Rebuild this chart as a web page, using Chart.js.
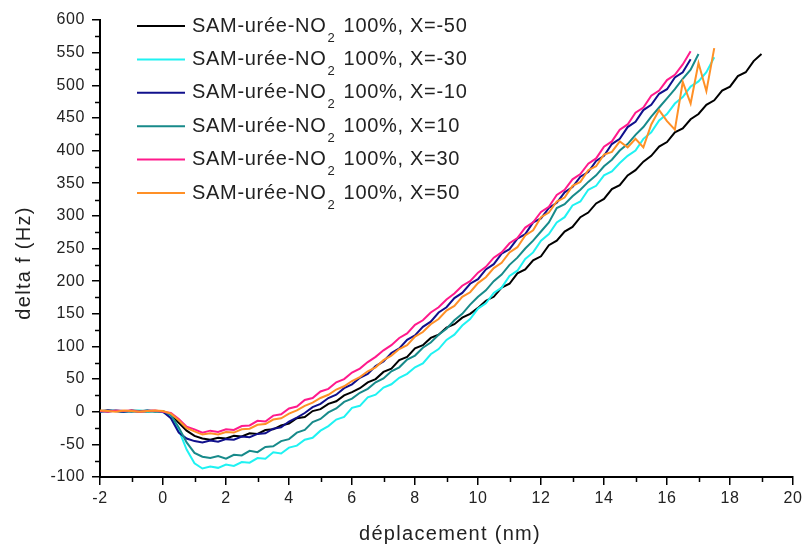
<!DOCTYPE html>
<html>
<head>
<meta charset="utf-8">
<title>delta f vs déplacement</title>
<script src="https://cdn.jsdelivr.net/npm/chart.js@4/dist/chart.umd.min.js"></script>
<style>
  html, body { margin: 0; padding: 0; background: #fff; }
  #c { display: block; }
</style>
</head>
<body>
<canvas id="c" width="807" height="547"></canvas>
<script>
// Displacement (nm), shared by all series
const displacement = [-2,-1.75,-1.5,-1.25,-1,-0.75,-0.5,-0.25,0,0.25,0.5,0.75,1,1.25,1.5,1.75,2,2.25,2.5,2.75,3,3.25,3.5,3.75,4,4.25,4.5,4.75,5,5.25,5.5,5.75,6,6.25,6.5,6.75,7,7.25,7.5,7.75,8,8.25,8.5,8.75,9,9.25,9.5,9.75,10,10.25,10.5,10.75,11,11.25,11.5,11.75,12,12.25,12.5,12.75,13,13.25,13.5,13.75,14,14.25,14.5,14.75,15,15.25,15.5,15.75,16,16.25,16.5,16.75,17,17.25,17.5,17.75,18,18.25,18.5,18.75,19];

// delta f (Hz) for each X
const xm50 = [1,2,1,0,2,1,0,1,0,-4,-17,-29,-37,-41,-43,-40,-41,-37,-38,-33,-34,-28,-27,-21,-18,-10,-8,1,4,12,16,25,30,36,45,50,61,66,79,84,97,102,113,118,129,134,144,150,159,170,176,190,196,212,218,232,238,255,262,276,283,298,305,319,326,341,347,362,370,383,392,406,413,428,434,448,456,470,477,492,498,514,520,537,548];
const xm30 = [0,1,2,0,1,2,0,1,-1,-6,-28,-58,-79,-87,-84,-86,-81,-83,-77,-78,-71,-72,-62,-64,-55,-52,-43,-40,-29,-22,-12,-8,6,9,22,26,37,42,52,58,68,74,88,96,110,118,132,142,158,166,182,190,208,216,234,244,262,272,290,298,316,322,340,346,362,368,381,392,400,418,428,446,456,472,482,498,506,520,543];
const xm10 = [0,2,1,0,1,0,2,1,0,-10,-32,-41,-45,-47,-44,-46,-42,-43,-38,-39,-34,-33,-26,-24,-15,-9,-2,7,12,21,26,36,42,52,58,70,77,90,97,110,117,130,138,152,160,174,182,196,203,218,226,242,249,265,272,290,296,312,320,336,344,360,367,384,392,410,418,436,444,462,470,487,494,512,520,540];
const xp10 = [1,0,2,1,0,1,2,0,1,-5,-24,-47,-63,-69,-71,-68,-72,-66,-67,-60,-62,-54,-53,-45,-42,-32,-28,-16,-11,-1,5,15,20,29,35,45,51,62,68,80,86,98,106,118,127,140,150,164,176,186,200,210,225,236,250,262,276,290,312,318,330,340,352,362,376,386,400,410,424,436,452,466,480,494,510,524,548];
const xp30 = [1,0,2,1,2,0,1,2,0,-2,-11,-23,-27,-32,-29,-31,-27,-28,-22,-21,-14,-15,-6,-4,5,8,18,21,31,35,45,50,60,66,76,84,94,102,113,120,133,140,152,160,172,181,193,200,213,222,236,244,258,266,282,290,306,314,332,340,356,364,380,388,406,414,432,440,458,466,484,492,508,516,532,552];
const xp50 = [2,1,0,2,1,0,1,2,1,-3,-13,-25,-30,-35,-33,-35,-31,-32,-27,-26,-20,-19,-12,-10,-3,2,9,14,21,26,34,39,47,53,62,68,79,86,96,102,115,122,134,142,155,162,176,183,197,206,220,228,244,252,270,278,298,305,322,328,346,352,370,376,394,398,414,405,418,405,440,462,445,432,505,472,534,491,557];

const seriesLabels = [
  'SAM-urée-NO₂ 100%, X=-50',
  'SAM-urée-NO₂ 100%, X=-30',
  'SAM-urée-NO₂ 100%, X=-10',
  'SAM-urée-NO₂ 100%, X=10',
  'SAM-urée-NO₂ 100%, X=30',
  'SAM-urée-NO₂ 100%, X=50'
];
const seriesValues = [xm50, xm30, xm10, xp10, xp30, xp50];
const seriesColors = ['#000000', '#1ff2f2', '#10108c', '#178a8a', '#ff1a8c', '#ff9026'];

const FONT = '"Liberation Sans", Arial, sans-serif';

function toPoints(ys) {
  return ys.map((y, i) => ({ x: displacement[i], y: y }));
}

// minor ticks halfway between major ones
const minorTicks = {
  id: 'minorTicks',
  afterDraw(chart) {
    const ctx = chart.ctx;
    const xs = chart.scales.x, ys = chart.scales.y;
    const area = chart.chartArea;
    ctx.save();
    ctx.strokeStyle = '#000';
    ctx.lineWidth = 1.5;
    ctx.beginPath();
    for (let v = -1; v < 20; v += 2) {
      const px = Math.round(xs.getPixelForValue(v)) + 0.5;
      ctx.moveTo(px, area.bottom);
      ctx.lineTo(px, area.bottom + 5);
    }
    for (let v = -75; v < 600; v += 50) {
      const py = Math.round(ys.getPixelForValue(v)) + 0.5;
      ctx.moveTo(area.left, py);
      ctx.lineTo(area.left - 5, py);
    }
    ctx.stroke();
    ctx.restore();
  }
};

// axis titles with the wide letter spacing of the original
const axisTitles = {
  id: 'axisTitles',
  afterDraw(chart) {
    const ctx = chart.ctx;
    ctx.save();
    ctx.fillStyle = '#222';
    ctx.font = '20px ' + FONT;
    ctx.letterSpacing = '1.3px';
    ctx.textAlign = 'center';
    ctx.textBaseline = 'middle';
    ctx.fillText('déplacement (nm)', 450, 534);
    ctx.translate(24, 263);
    ctx.rotate(-Math.PI / 2);
    ctx.fillText('delta f (Hz)', 0, 0);
    ctx.restore();
  }
};

// legend with a real subscript 2 in NO2
const subLegend = {
  id: 'subLegend',
  afterDraw(chart) {
    const ctx = chart.ctx;
    ctx.save();
    ctx.letterSpacing = '0.7px';
    ctx.textBaseline = 'middle';
    chart.data.datasets.forEach((ds, i) => {
      const y = 26 + i * 33.4;
      ctx.strokeStyle = ds.borderColor;
      ctx.lineWidth = 2;
      ctx.beginPath();
      ctx.moveTo(137, y);
      ctx.lineTo(185, y);
      ctx.stroke();
      const parts = ds.label.split('₂');
      ctx.fillStyle = '#222';
      ctx.font = '20px ' + FONT;
      ctx.fillText(parts[0], 192, y);
      let x = 192 + ctx.measureText(parts[0]).width;
      ctx.font = '13px ' + FONT;
      ctx.fillText('2', x + 1, y + 12);
      x += ctx.measureText('2').width + 3;
      ctx.font = '20px ' + FONT;
      ctx.fillText(parts[1], x, y);
    });
    ctx.restore();
  }
};

const spacing = {
  id: 'spacing',
  beforeDraw(chart) { chart.ctx.letterSpacing = '0.6px'; }
};

new Chart(document.getElementById('c'), {
  type: 'line',
  data: {
    datasets: seriesValues.map((ys, i) => ({
      label: seriesLabels[i],
      data: toPoints(ys),
      borderColor: seriesColors[i],
      backgroundColor: seriesColors[i],
      borderWidth: 2,
      pointRadius: 0,
      tension: 0,
      fill: false,
      order: seriesValues.length - i
    }))
  },
  options: {
    responsive: false,
    animation: false,
    devicePixelRatio: 1,
    layout: { padding: { top: 20, right: 14, left: 0, bottom: 0 } },
    plugins: {
      legend: { display: false },
      tooltip: { enabled: false }
    },
    scales: {
      x: {
        type: 'linear',
        min: -2,
        max: 20,
        afterFit(scale) { scale.height = 70; },
        border: { display: true, color: '#000', width: 2 },
        grid: { drawOnChartArea: false, drawTicks: true, tickLength: 8, color: '#000', lineWidth: 1.5 },
        ticks: {
          stepSize: 2,
          padding: 4,
          color: '#222',
          font: { family: FONT, size: 16 },
          maxRotation: 0
        }
      },
      y: {
        type: 'linear',
        min: -100,
        max: 600,
        afterFit(scale) { scale.width = 100; },
        border: { display: true, color: '#000', width: 2 },
        grid: { drawOnChartArea: false, drawTicks: true, tickLength: 8, color: '#000', lineWidth: 1.5 },
        ticks: {
          stepSize: 50,
          padding: 7,
          color: '#222',
          font: { family: FONT, size: 16 }
        }
      }
    }
  },
  plugins: [spacing, minorTicks, axisTitles, subLegend]
});
</script>
</body>
</html>
